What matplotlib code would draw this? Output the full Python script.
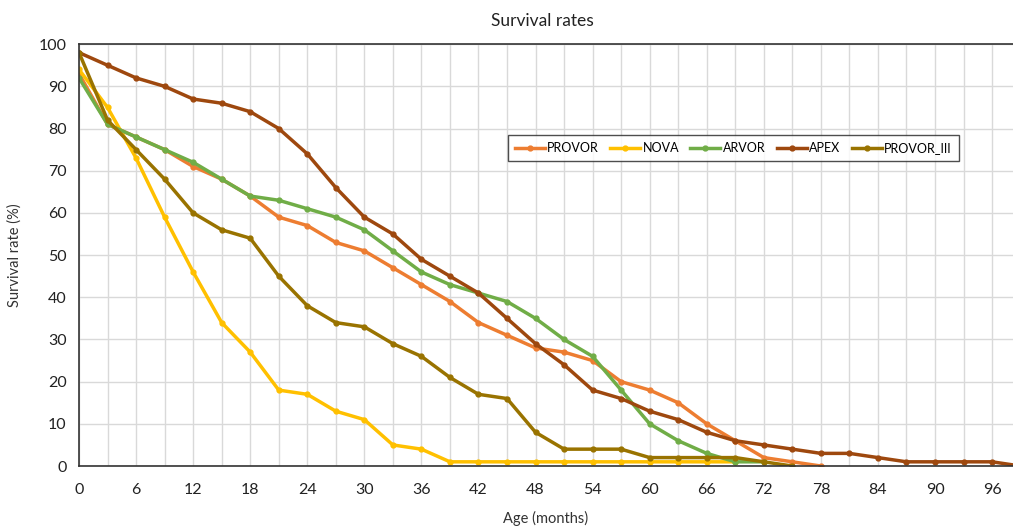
import numpy as np
import matplotlib
matplotlib.use("Agg")
import matplotlib.pyplot as plt

plt.rcParams['font.family'] = ['Lato', 'DejaVu Sans']

age_provor = [0, 3, 6, 9, 12, 15, 18, 21, 24, 27, 30, 33, 36, 39, 42, 45, 48, 51, 54, 57, 60, 63, 66, 69, 72, 75, 78]
provor = [93, 81, 78, 75, 71, 68, 64, 59, 57, 53, 51, 47, 43, 39, 34, 31, 28, 27, 25, 20, 18, 15, 10, 6, 2, 1, 0]

age_nova = [0, 3, 6, 9, 12, 15, 18, 21, 24, 27, 30, 33, 36, 39, 42, 45, 48, 51, 54, 57, 60, 63, 66, 69]
nova = [94, 85, 73, 59, 46, 34, 27, 18, 17, 13, 11, 5, 4, 1, 1, 1, 1, 1, 1, 1, 1, 1, 1, 1]

age_arvor = [0, 3, 6, 9, 12, 15, 18, 21, 24, 27, 30, 33, 36, 39, 42, 45, 48, 51, 54, 57, 60, 63, 66, 69, 72]
arvor = [92, 81, 78, 75, 72, 68, 64, 63, 61, 59, 56, 51, 46, 43, 41, 39, 35, 30, 26, 18, 10, 6, 3, 1, 1]

age_apex = [0, 3, 6, 9, 12, 15, 18, 21, 24, 27, 30, 33, 36, 39, 42, 45, 48, 51, 54, 57, 60, 63, 66,
            69, 72, 75, 78, 81, 84, 87, 90, 93, 96, 99]
apex = [98, 95, 92, 90, 87, 86, 84, 80, 74, 66, 59, 55, 49, 45, 41, 35, 29, 24, 18, 16, 13, 11, 8,
        6, 5, 4, 3, 3, 2, 1, 1, 1, 1, 0]

age_p3 = [0, 3, 6, 9, 12, 15, 18, 21, 24, 27, 30, 33, 36, 39, 42, 45, 48, 51, 54, 57, 60, 63, 66, 69, 72, 75]
provor_iii = [98, 82, 75, 68, 60, 56, 54, 45, 38, 34, 33, 29, 26, 21, 17, 16, 8, 4, 4, 4, 2, 2, 2, 2, 1, 0]

series = [
    ('PROVOR', age_provor, provor, '#ED7D31'),
    ('NOVA', age_nova, nova, '#FFC000'),
    ('ARVOR', age_arvor, arvor, '#70AD47'),
    ('APEX', age_apex, apex, '#9E480E'),
    ('PROVOR_III', age_p3, provor_iii, '#997300'),
]

fig = plt.figure(figsize=(10.13, 5.26), dpi=100)
ax = fig.add_axes([0.078, 0.114, 0.922, 0.802])

for name, x, y, c in series:
    ax.plot(x, y, color=c, lw=2.5, marker='o', ms=3.5, label=name)

ax.set_xlim(0, 98.2)
ax.set_ylim(0, 100)
ax.set_xticks(np.arange(0, 99, 3), minor=True)
ax.set_xticks(np.arange(0, 97, 6))
ax.set_yticks(np.arange(0, 101, 10))
ax.grid(True, which='both', color='#D9D9D9', lw=1)
ax.set_axisbelow(True)
ax.tick_params(which='both', length=0, labelsize=11.5, colors='#222222')
ax.tick_params(axis='x', pad=12)
ax.tick_params(axis='y', pad=9)

for s in ['left', 'bottom', 'top']:
    ax.spines[s].set_color('#333333')
    ax.spines[s].set_linewidth(1.2)
ax.spines['right'].set_visible(False)

ax.set_xlabel('Age (months)', fontsize=10.5, color='#333333', labelpad=10)
ax.set_ylabel('Survival rate (%)', fontsize=10.5, color='#333333', labelpad=12)
fig.text(0.535, 0.96, 'Survival rates', ha='center', va='center', fontsize=12.5, color='#222222')

leg = ax.legend(loc='upper left', bbox_to_anchor=(0.459, 0.784), ncol=5, fontsize=9,
                frameon=True, fancybox=False, handlelength=2.4, columnspacing=0.9,
                handletextpad=0.2, borderpad=0.55, borderaxespad=0)
leg.get_frame().set_edgecolor('#222222')
leg.get_frame().set_linewidth(1)

fig.savefig('out.png', dpi=100)
